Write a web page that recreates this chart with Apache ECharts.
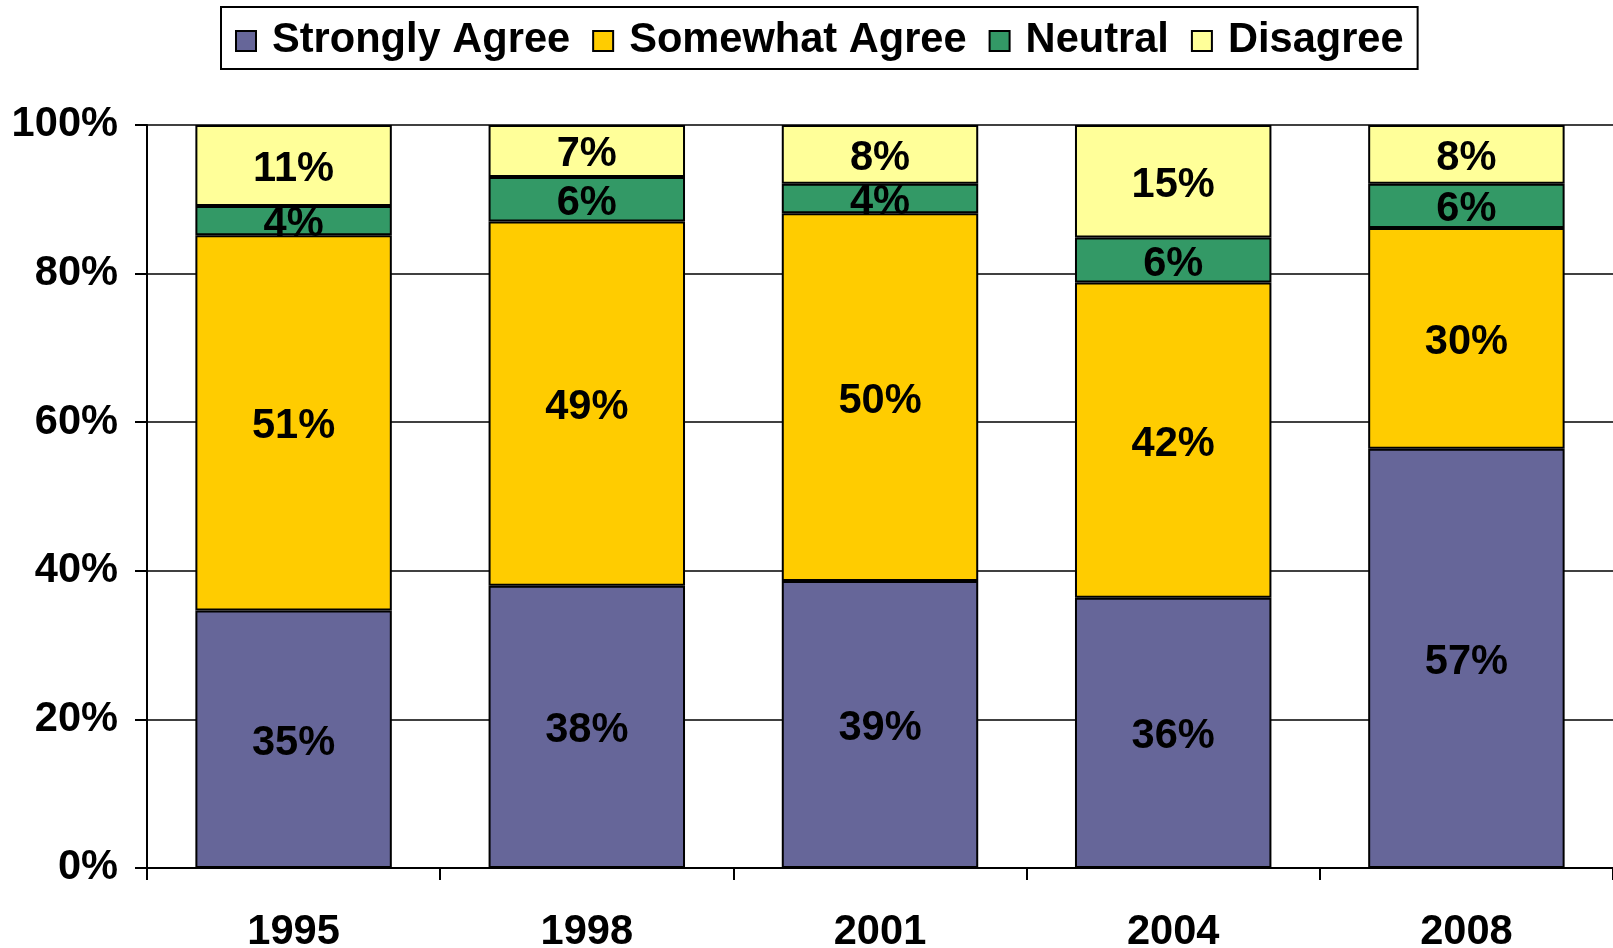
<!DOCTYPE html>
<html>
<head>
<meta charset="utf-8">
<script src="https://cdn.jsdelivr.net/npm/echarts@6/dist/echarts.min.js"></script>
<style>
  html, body { margin: 0; padding: 0; background: #fff; }
  #chart { width: 1613px; height: 948px; }
</style>
</head>
<body>
<div id="chart"></div>
<script>
const categories = ['1995', '1998', '2001', '2004', '2008'];
const seriesNames = ['Strongly Agree', 'Somewhat Agree', 'Neutral', 'Disagree'];
const stronglyAgree = [35, 38, 39, 36, 57];
const somewhatAgree = [51, 49, 50, 42, 30];
const neutral = [4, 6, 4, 6, 6];
const disagree = [11, 7, 8, 15, 8];
const yTicks = [0, 20, 40, 60, 80, 100];
const colors = ['#666699', '#FFCC00', '#339966', '#FFFF99'];

const raw = [stronglyAgree, somewhatAgree, neutral, disagree];
const totals = categories.map((c, i) => raw.reduce((s, arr) => s + arr[i], 0));
const FONT = '"Liberation Sans", Arial, sans-serif';
const FS = 41.6;

const chart = echarts.init(document.getElementById('chart'), null, { renderer: 'canvas' });

const series = raw.map((arr, si) => ({
  name: seriesNames[si],
  type: 'bar',
  stack: 'total',
  barCategoryGap: '33%',
  itemStyle: { color: colors[si], borderColor: '#000', borderWidth: 2 },
  label: {
    show: true,
    position: 'inside',
    offset: [0, 4],
    color: '#000',
    fontFamily: FONT,
    fontWeight: 'bold',
    fontSize: FS,
    formatter: p => raw[si][p.dataIndex] + '%'
  },
  data: arr.map((v, i) => v / totals[i] * 100)
}));

chart.setOption({
  animation: false,
  backgroundColor: '#fff',
  legend: {
    data: seriesNames,
    left: 221,
    top: 7,
    orient: 'horizontal',
    icon: 'rect',
    itemWidth: 20,
    itemHeight: 20,
    itemGap: 22,
    padding: [13, 14, 7, 14],
    borderColor: '#000',
    borderWidth: 2,
    backgroundColor: '#fff',
    textStyle: {
      fontFamily: FONT,
      fontWeight: 'bold',
      fontSize: FS,
      color: '#000',
      padding: [0, 0, 0, 11]
    }
  },
  grid: {
    left: 147,
    top: 125,
    bottom: 80,
    width: 1466,
    containLabel: false,
    outerBoundsMode: 'none'
  },
  xAxis: {
    type: 'category',
    data: categories,
    axisLine: { show: true, lineStyle: { color: '#000', width: 2 } },
    axisTick: { show: true, length: 12, lineStyle: { color: '#000', width: 2 } },
    axisLabel: {
      margin: 44,
      fontFamily: FONT,
      fontWeight: 'bold',
      fontSize: FS,
      color: '#000'
    }
  },
  yAxis: {
    type: 'value',
    min: yTicks[0],
    max: yTicks[yTicks.length - 1],
    interval: 20,
    axisLine: { show: true, lineStyle: { color: '#000', width: 2 } },
    axisTick: { show: true, length: 12, lineStyle: { color: '#000', width: 2 } },
    splitLine: { show: true, lineStyle: { color: '#000', width: 1.5 } },
    axisLabel: {
      margin: 29,
      padding: [14, 0, 0, 0],
      fontFamily: FONT,
      fontWeight: 'bold',
      fontSize: FS,
      color: '#000',
      formatter: v => v + '%'
    }
  },
  series: series
});
</script>
</body>
</html>
